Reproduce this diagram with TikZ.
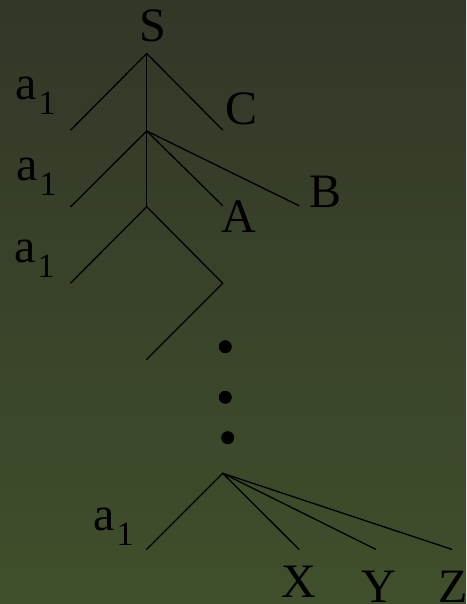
\documentclass[tikz,border=0pt]{standalone}
\usepackage{fontspec}
\setmainfont{Liberation Serif}
\usepackage{tikz}
\usetikzlibrary{positioning}
\definecolor{bgtop}{RGB}{50,55,40}
\definecolor{bgbottom}{RGB}{64,79,43}
\newcommand{\aone}{a\kern2pt\raisebox{-15pt}{\fontsize{34}{34}\selectfont 1}}
\tikzset{
  branch/.style={line width=1.3pt, line cap=round},
  sym/.style={inner sep=0pt, anchor=base, font=\fontsize{48}{58}\selectfont},
  term/.style={inner sep=0pt, anchor=base west, font=\fontsize{48}{58}\selectfont},
}

\begin{document}
\begin{tikzpicture}[
  x=1pt, y=-1pt,
  dotnode/.style={circle, fill=black, minimum size=13pt, inner sep=0pt},
]
\useasboundingbox (0,0) rectangle (466,604);
\shade[top color=bgtop, bottom color=bgbottom] (0,0) rectangle (466,604);

% Junctions
\coordinate (n0) at (146.7,53.5);
\coordinate (n1) at (146.7,131);
\coordinate (n2) at (146.7,206.7);
\coordinate (n3) at (222.7,473.3);

% Leaf ends
\coordinate (l0) at (70.7,130);
\coordinate (c0) at (222.7,130);
\coordinate (l1) at (70.7,206.7);
\coordinate (a0) at (222.7,205.7);
\coordinate (b0) at (299,205.7);
\coordinate (l2) at (70.7,283);
\coordinate (r2) at (222.7,283.3);
\coordinate (r3) at (146.7,359.3);
\coordinate (l3) at (146.7,549.3);
\coordinate (x0) at (299,549.3);
\coordinate (y0) at (375.7,549.3);
\coordinate (z0) at (451.7,549.3);

% Branches
\draw[branch] (n0) -- (l0);
\draw[branch] (n0) -- (c0);
\draw[branch] (n0) -- (n1);
\draw[branch] (n1) -- (l1);
\draw[branch] (n1) -- (a0);
\draw[branch] (n1) -- (b0);
\draw[branch] (n1) -- (n2);
\draw[branch] (n2) -- (l2);
\draw[branch] (n2) -- (r2);
\draw[branch] (r2) -- (r3);
\draw[branch] (n3) -- (l3);
\draw[branch] (n3) -- (x0);
\draw[branch] (n3) -- (y0);
\draw[branch] (n3) -- (z0);

% Dots
\node[dotnode] (d1) at (225.3,346.7) {};
\node[dotnode] (d2) at (225.3,397.3) {};
\node[dotnode] (d3) at (227.7,437.7) {};

% Labels
\node[sym] (s) at (153,42) {S};
\node[sym] (c) at (242,125) {C};
\node[sym] (a) at (239,232) {A};
\node[sym] (b) at (326,207) {B};
\node[sym] (x) at (299,597) {X};
\node[sym] (y) at (379,602) {Y};
\node[sym] (z) at (453,602) {Z};
\node[term] (t0) at (15,100) {\aone};
\node[term] (t1) at (16,180) {\aone};
\node[term] (t2) at (14,262) {\aone};
\node[term] (t3) at (93,530) {\aone};

\end{tikzpicture}
\end{document}
